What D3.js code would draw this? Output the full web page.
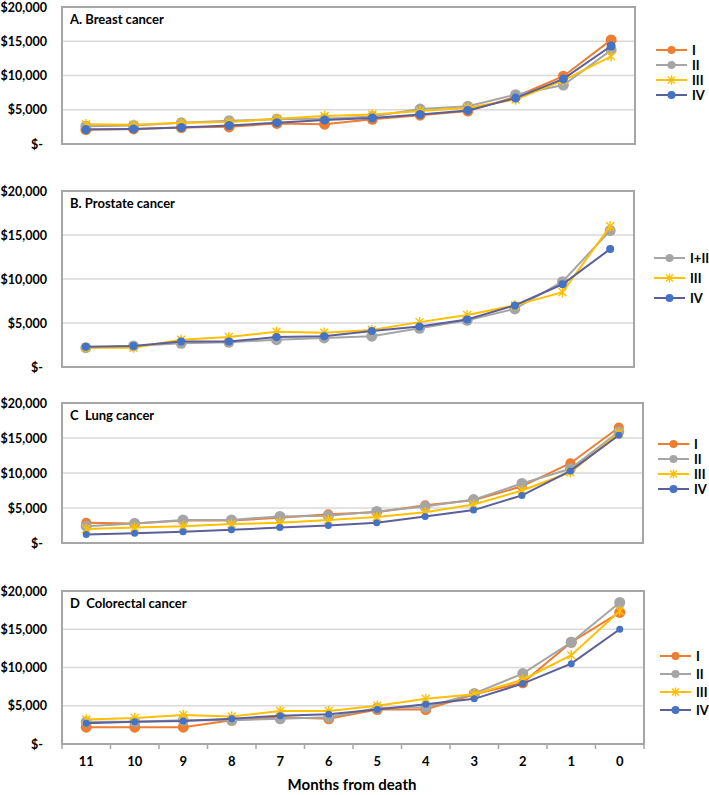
<!DOCTYPE html>
<html>
<head>
<meta charset="utf-8">
<script src="https://cdn.jsdelivr.net/npm/d3@7"></script>
<style>
  body { margin: 0; background: #fff; }
  text { font-family: Lato, "Open Sans", sans-serif; font-weight: bold; fill: #000; white-space: pre; }
</style>
</head>
<body>
<div id="chart"></div>
<script>
// Months before death (x categories)
const months = [11, 10, 9, 8, 7, 6, 5, 4, 3, 2, 1, 0];
const yTicks = [0, 5000, 10000, 15000, 20000];

// A. Breast cancer
const breastI   = [2100, 2200, 2400, 2500, 3000, 2900, 3600, 4200, 4800, 6900, 9900, 15200];
const breastII  = [2600, 2700, 3100, 3400, 3600, 3700, 4000, 5100, 5500, 7200, 8600, 13700];
const breastIII = [2900, 2800, 3100, 3200, 3700, 4100, 4300, 4800, 5300, 6500, 9300, 12800];
const breastIV  = [2100, 2200, 2400, 2700, 3100, 3500, 3800, 4300, 4900, 6700, 9500, 14300];

// B. Prostate cancer
const prostateI_II = [2200, 2400, 2700, 2800, 3100, 3300, 3500, 4400, 5300, 6600, 9700, 15500];
const prostateIII  = [2200, 2200, 3100, 3400, 4000, 3900, 4200, 5100, 5900, 7000, 8500, 16000];
const prostateIV   = [2300, 2400, 2900, 2900, 3400, 3500, 4100, 4600, 5400, 7000, 9400, 13400];

// C Lung cancer
const lungI   = [2900, 2800, 3200, 3200, 3600, 4100, 4400, 5400, 6100, 8100, 11400, 16500];
const lungII  = [2400, 2800, 3300, 3300, 3800, 3900, 4500, 5200, 6200, 8500, 10600, 15900];
const lungIII = [2000, 2200, 2400, 2700, 2900, 3300, 3700, 4400, 5500, 7500, 10100, 15700];
const lungIV  = [1200, 1400, 1600, 1900, 2200, 2500, 2900, 3800, 4700, 6800, 10300, 15400];

// D Colorectal cancer
const colonI   = [2200, 2200, 2200, 3100, 3500, 3300, 4500, 4500, 6500, 8000, 13300, 17200];
const colonII  = [2900, 2900, 3100, 3100, 3300, 3500, 4700, 4800, 6600, 9200, 13300, 18500];
const colonIII = [3200, 3400, 3800, 3600, 4300, 4300, 5000, 5900, 6500, 8400, 11600, 17400];
const colonIV  = [2700, 2900, 3000, 3300, 3700, 3900, 4500, 5200, 5900, 7900, 10500, 15000];

// series styles (Excel-ish palette)
const styles = {
  orange: { line: '#ED7D31', fill: '#ED7D31', shape: 'circle' },
  gray:   { line: '#A5A5A5', fill: '#A5A5A5', shape: 'circle' },
  yellow: { line: '#FFC000', fill: '#FFC000', shape: 'star' },
  blue:   { line: '#5B5F9A', fill: '#4472C4', shape: 'circle' }
};

const panels = [
  { title: 'A. Breast cancer', left: 62, right: 635, top: 7, bottom: 144,
    legend: { x: 656, y0: 50, dy: 15 },
    series: [
      { name: 'I', values: breastI, style: 'orange', r: 5.5 },
      { name: 'II', values: breastII, style: 'gray', r: 5.5 },
      { name: 'III', values: breastIII, style: 'yellow', r: 4 },
      { name: 'IV', values: breastIV, style: 'blue', r: 4.5 }
    ] },
  { title: 'B. Prostate cancer', left: 62, right: 634, top: 191, bottom: 367,
    legend: { x: 654, y0: 258, dy: 20 },
    series: [
      { name: 'I+II', values: prostateI_II, style: 'gray', r: 5.5 },
      { name: 'III', values: prostateIII, style: 'yellow', r: 4 },
      { name: 'IV', values: prostateIV, style: 'blue', r: 4 }
    ] },
  { title: 'C  Lung cancer', left: 62, right: 643, top: 403, bottom: 543,
    legend: { x: 658, y0: 444, dy: 15 },
    series: [
      { name: 'I', values: lungI, style: 'orange', r: 5 },
      { name: 'II', values: lungII, style: 'gray', r: 5.5 },
      { name: 'III', values: lungIII, style: 'yellow', r: 4 },
      { name: 'IV', values: lungIV, style: 'blue', r: 3.5 }
    ] },
  { title: 'D  Colorectal cancer', left: 62, right: 644, top: 591, bottom: 744,
    legend: { x: 660, y0: 656, dy: 18 }, xAxis: true,
    series: [
      { name: 'I', values: colonI, style: 'orange', r: 5.5 },
      { name: 'II', values: colonII, style: 'gray', r: 5.5 },
      { name: 'III', values: colonIII, style: 'yellow', r: 4 },
      { name: 'IV', values: colonIV, style: 'blue', r: 3.5 }
    ] }
];

const width = 709, height = 795;
const svg = d3.select('#chart').append('svg')
  .attr('width', width)
  .attr('height', height);

const moneyFmt = d3.format(',');

function starPath(s) {
  return `M${-s},${-s}L${s},${s}M${-s},${s}L${s},${-s}M0,${-s * 1.3}L0,${s * 1.3}`;
}

function drawMarker(g, x, y, st, r) {
  if (st.shape === 'star') {
    g.append('path')
      .attr('transform', `translate(${x},${y})`)
      .attr('d', starPath(r))
      .attr('fill', 'none')
      .attr('stroke', st.line)
      .attr('stroke-width', 1.4);
  } else {
    g.append('circle')
      .attr('cx', x).attr('cy', y).attr('r', r)
      .attr('fill', st.fill);
  }
}

panels.forEach(p => {
  const g = svg.append('g');
  const x = d3.scaleBand().domain(months).range([p.left, p.right]);
  const y = d3.scaleLinear().domain([0, 20000]).range([p.bottom, p.top]);

  // gridlines
  g.append('g')
    .selectAll('line')
    .data(yTicks.slice(1, -1))
    .join('line')
    .attr('x1', p.left).attr('x2', p.right)
    .attr('y1', d => y(d)).attr('y2', d => y(d))
    .attr('stroke', '#d9d9d9')
    .attr('stroke-width', 1.3);

  // y axis labels
  const yAxis = g.append('g')
    .attr('transform', `translate(${p.left},0)`)
    .call(d3.axisLeft(y).tickValues(yTicks).tickSize(0).tickPadding(15)
      .tickFormat(d => d === 0 ? '$-' : '$' + moneyFmt(d)));
  yAxis.select('.domain').remove();
  yAxis.selectAll('text')
    .attr('font-size', 12.5)
    .attr('font-family', 'Lato, sans-serif')
    .attr('font-weight', 'bold')
    .attr('fill', '#000')
    .attr('dx', d => d === 0 ? -4 : 0);

  // plot frame
  g.append('rect')
    .attr('x', p.left).attr('y', p.top)
    .attr('width', p.right - p.left).attr('height', p.bottom - p.top)
    .attr('fill', 'none')
    .attr('stroke', '#a6a6a6')
    .attr('stroke-width', 2);

  // title (keep the double spaces)
  g.append('text')
    .attr('x', p.left + 8)
    .attr('y', p.top + 17)
    .attr('font-size', 13)
    .attr('xml:space', 'preserve')
    .text(p.title);

  // x axis (bottom panel only)
  if (p.xAxis) {
    const edges = months.map(m => x(m)).concat([p.right]);
    g.append('g').selectAll('line')
      .data(edges)
      .join('line')
      .attr('x1', d => d).attr('x2', d => d)
      .attr('y1', p.bottom).attr('y2', p.bottom + 5)
      .attr('stroke', '#a6a6a6')
      .attr('stroke-width', 1.5);
    g.append('g').selectAll('text')
      .data(months)
      .join('text')
      .attr('x', d => x(d) + x.bandwidth() / 2)
      .attr('y', p.bottom + 22)
      .attr('text-anchor', 'middle')
      .attr('font-size', 13)
      .text(d => d);
    g.append('text')
      .attr('x', 352)
      .attr('y', p.bottom + 46)
      .attr('text-anchor', 'middle')
      .attr('font-size', 15)
      .text('Months from death');
  }

  const line = d3.line()
    .x((d, i) => x(months[i]) + x.bandwidth() / 2)
    .y(d => y(d));

  // series lines then markers
  p.series.forEach(s => {
    const st = styles[s.style];
    g.append('path')
      .datum(s.values)
      .attr('d', line)
      .attr('fill', 'none')
      .attr('stroke', st.line)
      .attr('stroke-width', 2);
    const mg = g.append('g');
    s.values.forEach((v, i) => {
      drawMarker(mg, x(months[i]) + x.bandwidth() / 2, y(v), st, s.r);
    });
  });

  // legend
  p.series.forEach((s, i) => {
    const st = styles[s.style];
    const ly = p.legend.y0 + i * p.legend.dy;
    const lg = g.append('g');
    lg.append('line')
      .attr('x1', p.legend.x).attr('x2', p.legend.x + 31)
      .attr('y1', ly).attr('y2', ly)
      .attr('stroke', st.line)
      .attr('stroke-width', 2);
    drawMarker(lg, p.legend.x + 15.5, ly, st, st.shape === 'star' ? 3.5 : 4);
    lg.append('text')
      .attr('x', p.legend.x + 36)
      .attr('y', ly + 4.5)
      .attr('font-size', 13)
      .text(s.name);
  });
});
</script>
</body>
</html>
